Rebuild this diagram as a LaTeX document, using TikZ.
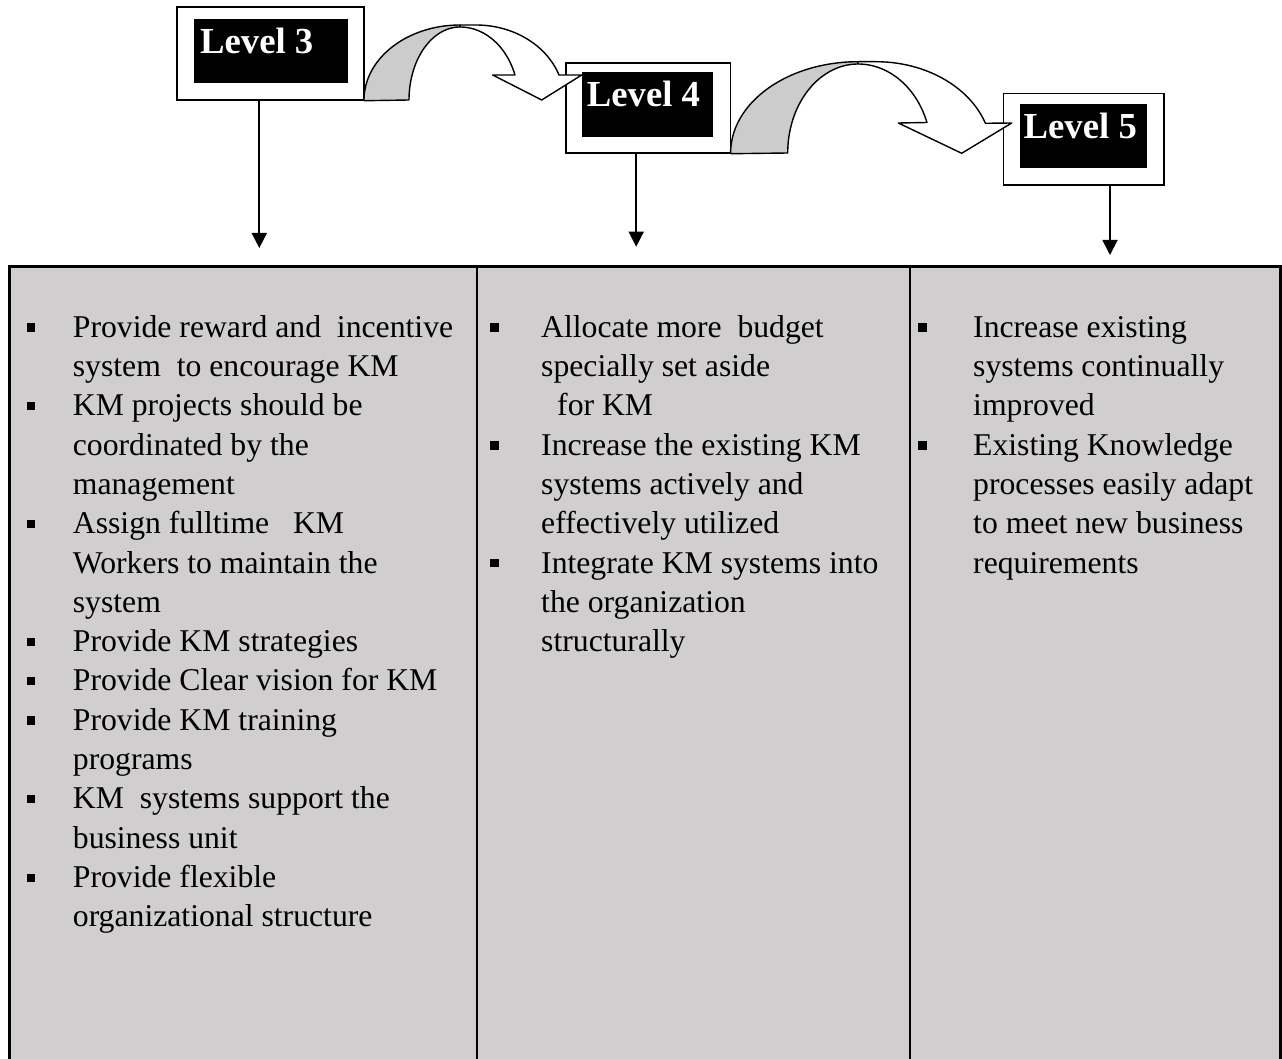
\documentclass[tikz,border=0pt]{standalone}
\usepackage{fontspec}
\setmainfont{Liberation Serif}
\usetikzlibrary{arrows.meta}
\definecolor{cellgray}{RGB}{208,206,206}
\definecolor{bandgray}{RGB}{204,204,204}
% square bullet used in the lists
\newcommand\kmbul{\rule[5.7pt]{8.3pt}{8.3pt}}

\begin{document}
\begin{tikzpicture}[x=1pt,y=-1pt,
  levelframe/.style={draw=black,line width=1.4pt,fill=white,inner sep=0pt},
  leveltag/.style={fill=black,inner sep=0pt},
  leveltext/.style={text=white,font=\fontsize{36.7}{40}\selectfont\bfseries,inner sep=0pt,anchor=base west},
  cell/.style={draw=black,line width=2.6pt,fill=cellgray,inner sep=0pt},
  bodytext/.style={font=\fontsize{31.7}{39.3}\selectfont,inner sep=0pt,anchor=base west},
  drop/.style={line width=1.8pt,-{Triangle[width=15pt,length=15pt]}},
  band/.style={draw=black,line width=1.4pt,line join=round}]

\useasboundingbox (0,0) rectangle (1282,1059);
\clip (0,0) rectangle (1282,1059);

% ---- level boxes ----
\node[levelframe,minimum width=187pt,minimum height=93pt] (lv3) at (270.5,53.5) {};
\node[leveltag,minimum width=154pt,minimum height=64pt] (lv3tag) at (271,51) {};
\node[leveltext] (lv3txt) at (200,53.3) {Level 3};

\node[levelframe,minimum width=164.6pt,minimum height=90pt] (lv4) at (648.3,108) {};
\node[leveltag,minimum width=131pt,minimum height=64.4pt] (lv4tag) at (647.5,104.5) {};
\node[leveltext] (lv4txt) at (586.7,106.7) {Level 4};

\node[levelframe,minimum width=160.4pt,minimum height=91.7pt] (lv5) at (1083.6,139.15) {};
\node[leveltag,minimum width=126.8pt,minimum height=64.3pt] (lv5tag) at (1083.4,136.15) {};
\node[leveltext] (lv5txt) at (1023.5,138.4) {Level 5};

% ---- curved arrow from level 3 to level 4 ----
\filldraw[band,fill=bandgray] (lv3.south east)
  -- plot[domain=180:270,samples=40,smooth] ({460+96*cos(\x)},{100+75*sin(\x)})
  -- plot[domain=270:180,samples=40,smooth] ({460+51*cos(\x)},{100+73*sin(\x)})
  -- cycle;
\filldraw[band,fill=white] (460,25) -- (476,25)
  -- plot[domain=270:340.53,samples=40,smooth] ({476+88*cos(\x)},{100+75*sin(\x)})
  -- (581.7,75) -- (541.7,100) -- (492.7,75)
  -- plot[domain=339.97:270,samples=40,smooth] ({460+58.5*cos(\x)},{100+73*sin(\x)})
  -- cycle;

% ---- curved arrow from level 4 to level 5 ----
\filldraw[band,fill=bandgray] (lv4.south east)
  -- plot[domain=180:270,samples=40,smooth] ({858+127.4*cos(\x)},{153+91.3*sin(\x)})
  -- plot[domain=270:180,samples=40,smooth] ({858+70.3*cos(\x)},{153+89*sin(\x)})
  -- cycle;
\filldraw[band,fill=white] (858,61.7) -- (876,61.7)
  -- plot[domain=270:341.0,samples=40,smooth] ({876+115.7*cos(\x)},{153+91.3*sin(\x)})
  -- (1011.7,123) -- (961.7,153.3) -- (898.3,123)
  -- plot[domain=339.96:270,samples=40,smooth] ({858+73.4*cos(\x)},{153+89*sin(\x)})
  -- cycle;

% ---- drops into the table ----
\coordinate (tip3) at (259.3,248);
\coordinate (tip4) at (636.2,246.7);
\coordinate (tip5) at (1110,255);
\draw[drop] (lv3.south -| tip3) -- (tip3);
\draw[drop] (lv4.south -| tip4) -- (tip4);
\draw[drop] (lv5.south -| tip5) -- (tip5);

% ---- table of measures ----
\node[cell,minimum width=467.7pt,minimum height=803.3pt] (colA) at (243.15,668.35) {};
\node[cell,minimum width=433pt,minimum height=803.3pt] (colB) at (693.5,668.35) {};
\node[cell,minimum width=370.7pt,minimum height=803.3pt] (colC) at (1095.35,668.35) {};

\node[bodytext] (listA) at (26.7,337.3) {%
\begin{tabular}[t]{@{}p{46pt}@{}l@{}}
\kmbul & Provide reward and\ \ incentive\\
 & system\ \ to encourage KM\\
\kmbul & KM projects should be\\
 & coordinated by the\\
 & management\\
\kmbul & Assign fulltime\ \ \ KM\\
 & Workers to maintain the\\
 & system\\
\kmbul & Provide KM strategies\\
\kmbul & Provide Clear vision for KM\\
\kmbul & Provide KM training\\
 & programs\\
\kmbul & KM\ \ systems support the\\
 & business unit\\
\kmbul & Provide flexible\\
 & organizational structure
\end{tabular}};

\node[bodytext] (listB) at (490,337.3) {%
\begin{tabular}[t]{@{}p{51pt}@{}l@{}}
\kmbul & Allocate more\ \ budget\\
 & specially set aside\\
 & \hspace*{16pt}for KM\\
\kmbul & Increase the existing KM\\
 & systems actively and\\
 & effectively utilized\\
\kmbul & Integrate KM systems into\\
 & the organization\\
 & structurally
\end{tabular}};

\node[bodytext] (listC) at (918,337.3) {%
\begin{tabular}[t]{@{}p{55pt}@{}l@{}}
\kmbul & Increase existing\\
 & systems continually\\
 & improved\\
\kmbul & Existing Knowledge\\
 & processes easily adapt\\
 & to meet new business\\
 & requirements
\end{tabular}};
\end{tikzpicture}
\end{document}
